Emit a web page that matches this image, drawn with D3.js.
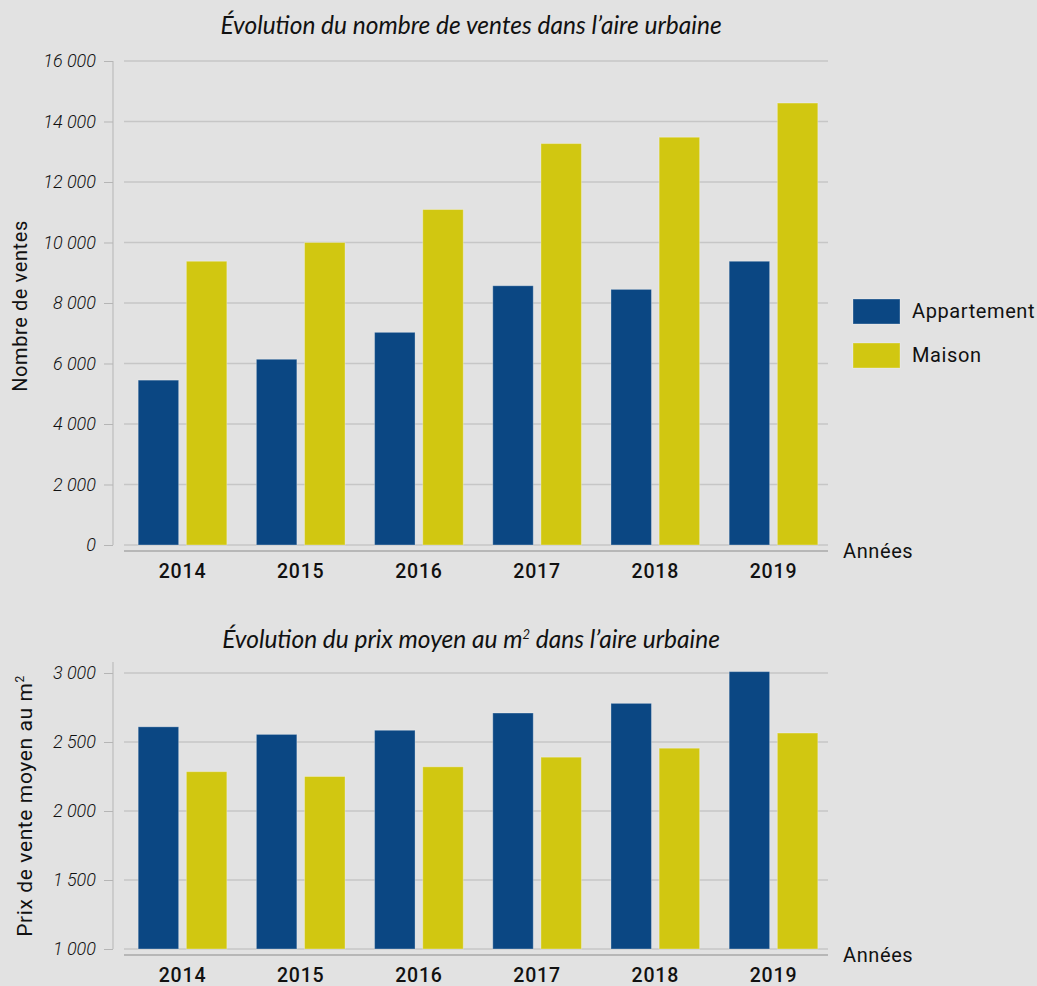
<!DOCTYPE html>
<html>
<head>
<meta charset="utf-8">
<script src="https://cdn.jsdelivr.net/npm/d3@7"></script>
<style>
  body { margin: 0; background: #e2e2e2; }
  svg { display: block; }
  .tick text { font-family: Roboto, sans-serif; font-style: italic; font-weight: 300; font-size: 18px; fill: #111; }
  .title { font-family: Lato, sans-serif; font-style: italic; font-size: 24.5px; fill: #111; }
  .lbl { font-family: Roboto, sans-serif; font-size: 19px; fill: #111; letter-spacing: 0.6px; }
</style>
</head>
<body>
<svg id="chart" width="1037" height="986"></svg>
<script>
var years = ["2014", "2015", "2016", "2017", "2018", "2019"];
var types = ["Appartement", "Maison"];
var ventesAppart = [5450, 6140, 7030, 8570, 8450, 9380];
var ventesMaison = [9380, 10000, 11090, 13270, 13480, 14610];
var prixAppart = [2610, 2555, 2585, 2710, 2780, 3010];
var prixMaison = [2285, 2250, 2320, 2390, 2455, 2565];
var ventesTicks = [0, 2000, 4000, 6000, 8000, 10000, 12000, 14000, 16000];
var prixTicks = [1000, 1500, 2000, 2500, 3000];

var svg = d3.select("#chart");
var color = d3.scaleOrdinal(types, ["#0b4783", "#d1c711"]);
var fr = d3.formatLocale({decimal: ",", thousands: " ", grouping: [3]});
var fmt = fr.format(",d");

var x0 = d3.scaleBand().domain(years).range([124, 832]).paddingInner(0.25).paddingOuter(0.12);
var x1 = d3.scaleBand().domain(types).range([0, x0.bandwidth()]).paddingInner(0.16);

function drawChart(opts) {
  var g = svg.append("g");
  var y = d3.scaleLinear().domain(opts.domain).range(opts.range);

  // gridlines
  g.selectAll(".grid").data(opts.ticks).enter().append("line")
    .attr("x1", 124).attr("x2", 828)
    .attr("y1", function(d) { return y(d); }).attr("y2", function(d) { return y(d); })
    .attr("stroke", "#c6c6c6").attr("stroke-width", 1.3);

  // y axis
  var ax = g.append("g").attr("transform", "translate(113,0)")
    .call(d3.axisLeft(y).tickValues(opts.ticks).tickSize(9).tickSizeOuter(0).tickPadding(8).tickFormat(fmt));
  ax.select(".domain").remove();
  ax.selectAll(".tick line").attr("stroke", "#b5b5b5");
  g.append("line").attr("x1", 113).attr("x2", 113)
    .attr("y1", opts.axisTop).attr("y2", y(opts.domain[0]))
    .attr("stroke", "#b5b5b5");

  // bars
  var rows = years.map(function(yr, i) {
    return {year: yr, vals: [{k: types[0], v: opts.a[i]}, {k: types[1], v: opts.m[i]}]};
  });
  var grp = g.selectAll(".grp").data(rows).enter().append("g")
    .attr("transform", function(d) { return "translate(" + x0(d.year) + ",0)"; });
  grp.selectAll("rect").data(function(d) { return d.vals; }).enter().append("rect")
    .attr("x", function(d) { return x1(d.k); })
    .attr("width", x1.bandwidth())
    .attr("y", function(d) { return y(d.v); })
    .attr("height", function(d) { return y(opts.domain[0]) - y(d.v); })
    .attr("fill", function(d) { return color(d.k); })
    .attr("stroke", "#ffffff").attr("stroke-opacity", 0.3)
    .attr("stroke-width", 1);

  // x baseline
  g.append("line").attr("x1", 124).attr("x2", 828)
    .attr("y1", opts.baseY).attr("y2", opts.baseY)
    .attr("stroke", "#a9a9a9").attr("stroke-width", 1.5);

  var xa = g.append("g").attr("transform", "translate(0," + opts.baseY + ")")
    .call(d3.axisBottom(x0).tickSize(0).tickPadding(opts.xPad));
  xa.select(".domain").remove();
  xa.selectAll(".tick text").style("font-style", "normal").style("font-weight", 500)
    .style("font-size", "19.5px").style("letter-spacing", "0.8px");

  g.append("text").attr("class", "lbl").attr("x", 843).attr("y", opts.baseY + 7)
    .style("font-size", "20px").text("Années");

  g.append("text").attr("class", "title").attr("x", 471).attr("y", opts.titleY)
    .attr("text-anchor", "middle").html(opts.title);

  g.append("text").attr("class", "lbl").style("font-size", opts.ysize)
    .attr("transform", "translate(" + opts.ylx + "," + opts.yly + ") rotate(-90)")
    .attr("text-anchor", "middle").html(opts.ylabel);
}

drawChart({
  domain: [0, 16000], range: [545, 61], ticks: ventesTicks, a: ventesAppart, m: ventesMaison,
  axisTop: 61, baseY: 551, xPad: 13, titleY: 34,
  title: "Évolution du nombre de ventes dans l’aire urbaine",
  ylabel: "Nombre de ventes", ylx: 27, yly: 306, ysize: "20px"
});

drawChart({
  domain: [1000, 3000], range: [949, 673], ticks: prixTicks, a: prixAppart, m: prixMaison,
  axisTop: 662, baseY: 955, xPad: 13, titleY: 648,
  title: "Évolution du prix moyen au m<tspan dy='-9' font-size='13'>2</tspan><tspan dy='9'> dans l’aire urbaine</tspan>",
  ylabel: "Prix de vente moyen au m<tspan dy='-8' font-size='12'>2</tspan>", ylx: 32, yly: 806, ysize: "21px"
});

// legend
var leg = svg.append("g").selectAll("g").data(types).enter().append("g")
  .attr("transform", function(d, i) { return "translate(853," + (299 + i * 44) + ")"; });
leg.append("rect").attr("width", 47).attr("height", 25)
  .attr("fill", function(d) { return color(d); })
  .attr("stroke", "#ffffff").attr("stroke-opacity", 0.3).attr("stroke-width", 1);
leg.append("text").attr("class", "lbl").attr("x", 59).attr("y", 19).style("font-size", "20px").text(function(d) { return d; });
</script>
</body>
</html>
